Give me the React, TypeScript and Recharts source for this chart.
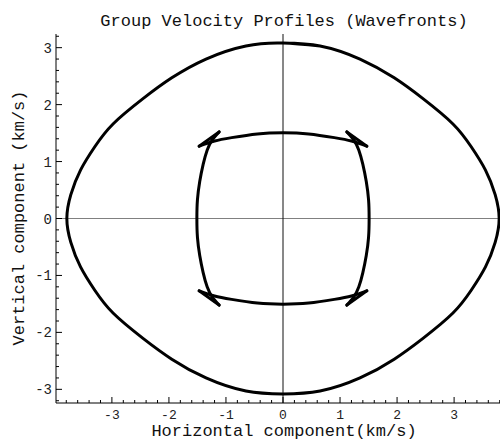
import React from 'react';
import { ScatterChart, Scatter, XAxis, YAxis, ReferenceLine } from 'recharts';

// outer wavefront (closed loop, clockwise from the top; first segment repeated at the end to close smoothly)
const outerX = [0, 0.65, 1.35, 1.95, 2.46, 2.98, 3.3, 3.55, 3.72, 3.79, 3.72, 3.55, 3.3, 2.98, 2.46, 1.95, 1.35, 0.65, 0,
  -0.65, -1.35, -1.95, -2.46, -2.98, -3.3, -3.55, -3.72, -3.79, -3.72, -3.55, -3.3, -2.98, -2.46, -1.95, -1.35, -0.65, 0, 0.65];
const outerY = [3.08, 3.03, 2.8, 2.47, 2.1, 1.66, 1.26, 0.85, 0.42, 0, -0.42, -0.85, -1.26, -1.66, -2.1, -2.47, -2.8, -3.03, -3.08,
  -3.03, -2.8, -2.47, -2.1, -1.66, -1.26, -0.85, -0.42, 0, 0.42, 0.85, 1.26, 1.66, 2.1, 2.47, 2.8, 3.03, 3.08, 3.03];

// inner wavefront branches (tip to tip)
const topX = [-1.47, -1.2, -0.9, -0.45, 0, 0.45, 0.9, 1.2, 1.47];
const topY = [1.27, 1.36, 1.42, 1.485, 1.505, 1.485, 1.42, 1.36, 1.27];
const bottomX = [-1.47, -1.2, -0.9, -0.45, 0, 0.45, 0.9, 1.2, 1.47];
const bottomY = [-1.27, -1.36, -1.42, -1.485, -1.505, -1.485, -1.42, -1.36, -1.27];
const rightX = [1.12, 1.24, 1.33, 1.4, 1.46, 1.5, 1.51, 1.5, 1.46, 1.4, 1.33, 1.24, 1.12];
const rightY = [1.52, 1.38, 1.2, 0.95, 0.65, 0.33, 0, -0.33, -0.65, -0.95, -1.2, -1.38, -1.52];
const leftX = [-1.12, -1.24, -1.33, -1.4, -1.46, -1.5, -1.51, -1.5, -1.46, -1.4, -1.33, -1.24, -1.12];
const leftY = [1.52, 1.38, 1.2, 0.95, 0.65, 0.33, 0, -0.33, -0.65, -0.95, -1.2, -1.38, -1.52];

// short cusp edges joining the tips
const cuspX = [[1.47, 1.12], [1.47, 1.12], [-1.47, -1.12], [-1.47, -1.12]];
const cuspY = [[1.27, 1.52], [-1.27, -1.52], [-1.27, -1.52], [1.27, 1.52]];

const majorTicks = [-3, -2, -1, 0, 1, 2, 3];

const minorTicks = (lim: number) => {
  const out: number[] = [];
  for (let k = -Math.floor(lim * 5); k <= Math.floor(lim * 5); k++) out.push(Math.round(k * 2) / 10);
  return out;
};
const xTicks = minorTicks(3.98);
const yTicks = minorTicks(3.24);

const zip = (xs: number[], ys: number[]) => xs.map((x, i) => ({ x, y: ys[i] }));
const outer = zip(outerX, outerY);
const branches = [zip(topX, topY), zip(rightX, rightY), zip(bottomX, bottomY), zip(leftX, leftY)];
const cusps = cuspX.map((xs, i) => zip(xs, cuspY[i]));

const FONT = '"Liberation Mono", "DejaVu Sans Mono", monospace';
const isMajor = (v: number) => majorTicks.some(m => Math.abs(m - v) < 1e-6);
const label = (v: number) => (v < 0 ? '-' + Math.abs(Math.round(v)) : String(Math.round(v)));

const BottomTick = (props: any) => {
  const { x, y, payload } = props;
  const major = isMajor(payload.value);
  return (
    <g>
      <line x1={x} x2={x} y1={y} y2={y - (major ? 6 : 3)} stroke="#000" />
      {major && (
        <text x={x} y={y + 16} textAnchor="middle" fontFamily={FONT} fontSize={13} fill="#222">
          {label(payload.value)}
        </text>
      )}
    </g>
  );
};

const TopTick = (props: any) => {
  const { x, y, payload } = props;
  const major = isMajor(payload.value);
  return <line x1={x} x2={x} y1={y} y2={y + (major ? 6 : 3)} stroke="#000" />;
};

const LeftTick = (props: any) => {
  const { x, y, payload } = props;
  const major = isMajor(payload.value);
  return (
    <g>
      <line x1={x} x2={x + (major ? 6 : 3)} y1={y} y2={y} stroke="#000" />
      {major && (
        <text x={x - 4} y={y + 5} textAnchor="end" fontFamily={FONT} fontSize={14} fill="#222">
          {label(payload.value)}
        </text>
      )}
    </g>
  );
};

const noDot = () => <g />;
const curveLine = { stroke: '#000', strokeWidth: 3, strokeLinejoin: 'round', strokeLinecap: 'round' } as any;

export default function App() {
  return (
    <div style={{ position: 'absolute', left: 0, top: 0, width: 500, height: 440, overflow: 'hidden', background: '#fff' }}>
      <ScatterChart width={520} height={440} margin={{ top: 34, right: 10, bottom: 0, left: 0 }}>
        <XAxis xAxisId="b" type="number" dataKey="x" scale="linear" domain={[-3.98, 3.98]} allowDataOverflow
          ticks={xTicks} interval={0} tick={<BottomTick />} tickLine={false} tickSize={0} tickMargin={0}
          axisLine={{ stroke: '#000' }} height={37} />
        <XAxis xAxisId="t" orientation="top" type="number" dataKey="x" scale="linear" domain={[-3.98, 3.98]} allowDataOverflow
          ticks={xTicks} interval={0} tick={<TopTick />} tickLine={false} tickSize={0} tickMargin={0}
          axisLine={{ stroke: '#000' }} height={0} />
        <YAxis yAxisId="l" type="number" dataKey="y" scale="linear" domain={[-3.24, 3.24]} allowDataOverflow
          ticks={yTicks} interval={0} tick={<LeftTick />} tickLine={false} tickSize={0} tickMargin={0}
          axisLine={{ stroke: '#000' }} width={56} />
        <ReferenceLine xAxisId="b" yAxisId="l" y={0} stroke="#808080" strokeWidth={1} />
        <ReferenceLine xAxisId="b" yAxisId="l" x={0} stroke="#111" strokeWidth={1} />
        <Scatter xAxisId="b" yAxisId="l" data={outer} line={curveLine} lineType="joint" lineJointType="natural"
          shape={noDot} isAnimationActive={false} />
        {branches.map((d, i) => (
          <Scatter key={'br' + i} xAxisId="b" yAxisId="l" data={d} line={curveLine} lineType="joint" lineJointType="natural"
            shape={noDot} isAnimationActive={false} />
        ))}
        {cusps.map((d, i) => (
          <Scatter key={'cu' + i} xAxisId="b" yAxisId="l" data={d} line={curveLine} lineType="joint"
            shape={noDot} isAnimationActive={false} />
        ))}
      </ScatterChart>
      <svg width={500} height={440} style={{ position: 'absolute', left: 0, top: 0, pointerEvents: 'none' }}>
        <text x={284} y={26} textAnchor="middle" fontFamily={FONT} fontSize={17} fill="#111">
          Group Velocity Profiles (Wavefronts)
        </text>
        <text x={284} y={436} textAnchor="middle" fontFamily={FONT} fontSize={17} fill="#111">
          Horizontal component(km/s)
        </text>
        <text x={24} y={218} textAnchor="middle" fontFamily={FONT} fontSize={17} fill="#111" transform="rotate(-90 24 218)">
          Vertical component (km/s)
        </text>
      </svg>
    </div>
  );
}
